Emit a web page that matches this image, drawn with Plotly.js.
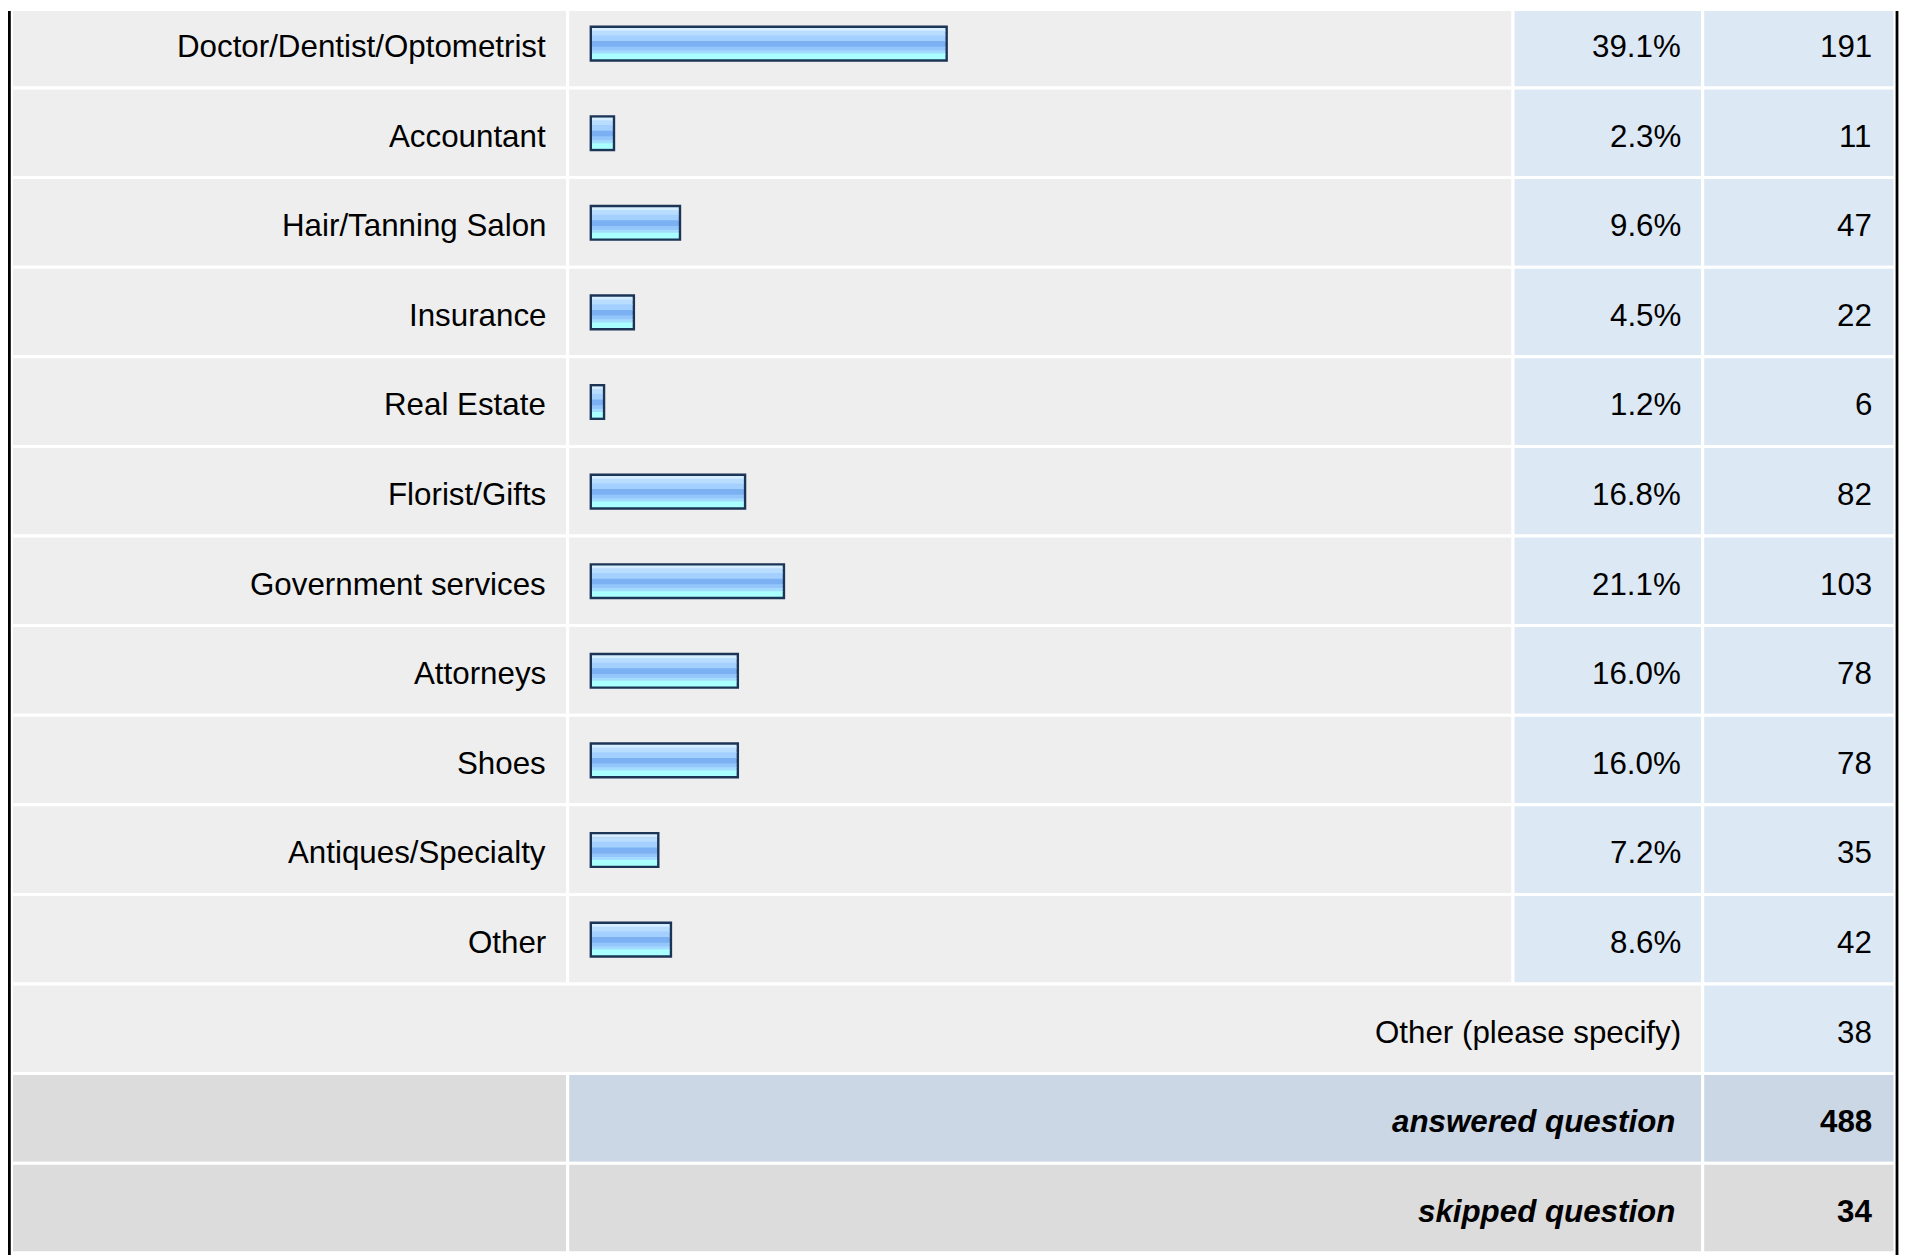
<!DOCTYPE html>
<html>
<head>
<meta charset="utf-8">
<script src="https://cdn.plot.ly/plotly-3.0.1.min.js"></script>
<style>
  html, body { margin: 0; padding: 0; background: #ffffff; }
  #chart { width: 1911px; height: 1255px; }
</style>
</head>
<body>
<div id="chart"></div>
<script>
// ---------- data ----------
const categories = [
  "Doctor/Dentist/Optometrist",
  "Accountant",
  "Hair/Tanning Salon",
  "Insurance",
  "Real Estate",
  "Florist/Gifts",
  "Government services",
  "Attorneys",
  "Shoes",
  "Antiques/Specialty",
  "Other"
];
const percents = [39.1, 2.3, 9.6, 4.5, 1.2, 16.8, 21.1, 16.0, 16.0, 7.2, 8.6];
const counts = [191, 11, 47, 22, 6, 82, 103, 78, 78, 35, 42];
const otherSpecifyLabel = "Other (please specify)";
const otherSpecifyCount = 38;
const summaryLabels = ["answered question", "skipped question"];
const summaryCounts = [488, 34];

// ---------- layout constants (pixels) ----------
const W = 1911, H = 1255;
const ROW0 = 43.2, PITCH = 89.6;           // row centre / pitch in px
const X_LEFT = 11.5, X_COL1 = 567.7, X_COL2 = 1513, X_COL3 = 1702.7, X_RIGHT = 1895;
const X0_PX = 592, X100_PX = 1496;           // bar axis 0..100
const X_MIN = -1;                            // a little room left of zero so the border is not clipped
const BAR_H = 31.3;                          // inner bar height (px)
const BAR_DY = 0.4;                          // bar centre offset below row centre (px)
const BORDER = 2.4;                          // visible border outside the bar (px)
const FONT = "Liberation Sans, Arial, Helvetica, sans-serif";
const FSIZE = 31.3;
const C_GRAY = "#eeeeee", C_BLUE = "#dde8f5", C_SUM_BLUE = "#cbd7e5", C_DARK = "#dcdcdc";

const px = v => v / W;
const pyPaper = v => 1 - v / H;
const SLOPE = (X100_PX - X0_PX) / 100;

// gradient stripes of the bar (style only, fraction of bar height from top)
const stripeStyle = [
  [0.00, 0.09, "#d4edff"],
  [0.09, 0.24, "#b8ddff"],
  [0.24, 0.42, "#a3d0ff"],
  [0.42, 0.60, "#7bb0f3"],
  [0.60, 0.72, "#94c6fc"],
  [0.72, 0.82, "#a4dcff"],
  [0.82, 1.00, "#aaffff"]
];

// dark border: a filled bar whose outline sticks out BORDER px
const traces = [{
  type: "bar",
  orientation: "h",
  x: percents,
  y: categories,
  marker: { color: "#1c3456", line: { color: "#1c3456", width: BORDER * 2 } },
  width: BAR_H / PITCH,
  offset: (BAR_DY - BAR_H / 2) / PITCH,
  hoverinfo: "skip"
}];
stripeStyle.forEach(([t, b, c], k) => {
  const last = k === stripeStyle.length - 1;
  traces.push({
    type: "bar",
    orientation: "h",
    x: percents,
    y: categories,
    marker: { color: c, line: { width: 0 } },
    width: ((b - t) * BAR_H + (last ? 0 : 0.7)) / PITCH,
    offset: (BAR_DY + t * BAR_H - BAR_H / 2) / PITCH,
    hoverinfo: "skip"
  });
});

// ---------- cell backgrounds ----------
const shapes = [];
function cell(x0, x1, row, color) {
  shapes.push({
    type: "rect", layer: "below",
    xref: "paper", yref: "y",
    x0: px(x0), x1: px(x1), y0: row - 0.5, y1: row + 0.5,
    fillcolor: color, line: { color: "#ffffff", width: 3 }
  });
}
categories.forEach((c, i) => {
  cell(X_LEFT, X_COL1, i, C_GRAY);
  cell(X_COL1, X_COL2, i, C_GRAY);
  cell(X_COL2, X_COL3, i, C_BLUE);
  cell(X_COL3, X_RIGHT, i, C_BLUE);
});
const rOther = categories.length;
cell(X_LEFT, X_COL3, rOther, C_GRAY);
cell(X_COL3, X_RIGHT, rOther, C_BLUE);
const rAns = rOther + 1, rSkip = rOther + 2;
cell(X_LEFT, X_COL1, rAns, C_DARK);
cell(X_COL1, X_COL3, rAns, C_SUM_BLUE);
cell(X_COL3, X_RIGHT, rAns, C_SUM_BLUE);
cell(X_LEFT, X_COL1, rSkip, C_DARK);
cell(X_COL1, X_COL3, rSkip, C_DARK);
cell(X_COL3, X_RIGHT, rSkip, C_DARK);

// white band on top
shapes.push({
  type: "rect", layer: "below", xref: "paper", yref: "paper",
  x0: 0, x1: 1, y0: pyPaper(11), y1: 1,
  fillcolor: "#ffffff", line: { width: 0 }
});
// black side borders
[9.4, 1897].forEach(xx => shapes.push({
  type: "line", layer: "below", xref: "paper", yref: "paper",
  x0: px(xx), x1: px(xx), y0: 0, y1: pyPaper(11),
  line: { color: "#000000", width: 2.8 }
}));

// ---------- texts ----------
const annotations = [];
const TY = -3.2;
function txt(text, xr, row, opts) {
  annotations.push(Object.assign({
    text: text, xref: "paper", yref: "y",
    x: px(xr), y: row, xanchor: "right", yanchor: "middle",
    yshift: TY, showarrow: false,
    font: { family: FONT, size: FSIZE, color: "#000000" }
  }, opts || {}));
}
categories.forEach((c, i) => {
  txt(c, 548, i);
  txt(percents[i].toFixed(1) + "%", 1682.5, i);
  txt(String(counts[i]), 1874, i);
});
txt(otherSpecifyLabel, 1682.5, rOther);
txt(String(otherSpecifyCount), 1874, rOther);
summaryLabels.forEach((s, k) => {
  txt(s, 1677, rAns + k, { font: { family: FONT, size: FSIZE, color: "#000000", weight: "bold", style: "italic" } });
  txt(String(summaryCounts[k]), 1874, rAns + k, { font: { family: FONT, size: FSIZE, color: "#000000", weight: "bold" } });
});

const layout = {
  width: W, height: H,
  margin: { l: 0, r: 0, t: 0, b: 0, pad: 0 },
  paper_bgcolor: "#ffffff",
  plot_bgcolor: "rgba(0,0,0,0)",
  showlegend: false,
  barmode: "overlay",
  xaxis: {
    domain: [px(X0_PX + X_MIN * SLOPE), px(X100_PX)],
    range: [X_MIN, 100], visible: false, fixedrange: true
  },
  yaxis: {
    type: "category", categoryarray: categories, categoryorder: "array",
    domain: [0, 1],
    range: [(H - ROW0) / PITCH, -ROW0 / PITCH],
    visible: false, fixedrange: true
  },
  shapes: shapes,
  annotations: annotations
};

Plotly.newPlot("chart", traces, layout, { staticPlot: true, displayModeBar: false });
</script>
</body>
</html>
